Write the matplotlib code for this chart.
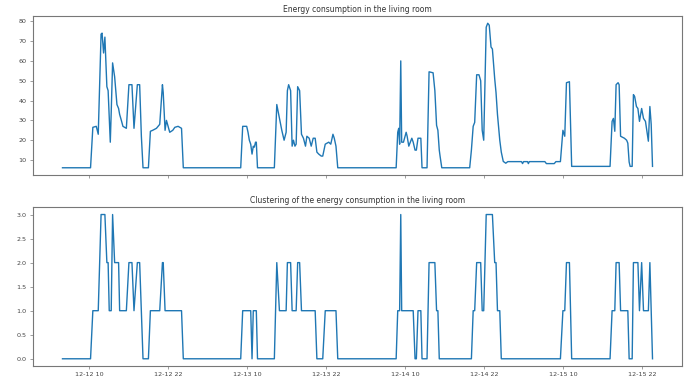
import matplotlib
matplotlib.use("Agg")
import matplotlib.pyplot as plt
import matplotlib.dates as mdates
import numpy as np
import pandas as pd

# hours since 12-12 00:00, with the reading and the cluster given to it
hours = [6.0, 10.26, 10.61, 11.13, 11.43, 11.86, 12.01, 12.24, 12.44, 12.74,
         12.93, 13.10, 13.26, 13.40, 13.61, 13.92, 14.27, 14.52, 14.68, 14.94,
         15.18, 15.70, 16.09, 16.55, 16.86, 17.37, 17.72, 17.98, 18.23, 19.05,
         19.35, 19.70, 20.27, 20.77, 21.18, 21.30, 21.58, 21.79, 22.29, 22.75,
         23.06, 23.56, 24.08, 24.35,
         33.07, 33.37, 33.98, 34.18, 34.38, 34.59, 34.79, 34.98, 35.14, 35.32,
         35.44, 35.62,
         38.18, 38.55, 38.95, 39.31, 39.66, 39.97, 40.16, 40.35, 40.65, 40.88,
         41.08, 41.31, 41.49, 41.72, 42.02, 42.30, 42.60, 42.91, 43.12, 43.47,
         43.78, 44.08, 44.38, 44.64, 44.92, 45.30, 45.53, 45.91, 46.44, 46.75,
         47.08, 47.28, 47.54, 47.81,
         56.68, 56.92, 57.07, 57.21, 57.38, 57.52, 57.79, 58.20, 58.35, 58.60,
         59.06, 59.27, 59.55, 59.75, 60.00, 60.43, 60.61, 61.37, 61.68, 62.29,
         62.56, 62.82, 63.02, 63.23, 63.35, 63.61,
         67.85, 68.11, 68.38, 68.61, 68.91, 69.26, 69.52, 69.75, 69.98, 70.36,
         70.59, 70.82, 71.09, 71.30, 71.65, 71.85, 72.07, 72.42, 72.65, 72.95,
         73.33, 73.64, 75.72, 75.88, 76.03, 76.64, 76.76, 76.91, 79.27, 79.50,
         80.69, 80.95, 81.63, 82.01, 82.29, 82.55, 83.00, 83.34,
         89.17, 89.48, 89.68, 89.89, 90.09, 90.39, 90.55, 90.77, 91.35, 91.69,
         91.87, 92.07, 92.22, 92.53, 92.72, 92.91, 93.18, 93.40, 93.64, 93.97,
         94.25, 94.55, 94.99, 95.22, 95.42, 95.62]

energy = [6.1, 6.1, 26.5, 27, 23, 73.5, 74, 64, 72, 47,
          45, 32, 19, 34, 59, 52, 38, 36, 33, 30,
          27, 26, 48, 48, 26, 48, 48, 22, 6.1, 6.1,
          24.5, 25, 26, 28, 48, 44, 25, 30, 24, 25,
          26.5, 27, 26, 6.1,
          6.1, 27, 27, 24, 20, 18, 13, 17, 16.5, 19,
          19, 6.1,
          6.1, 38, 31, 25, 20, 24, 45, 48, 45, 17,
          20, 17, 18, 47, 45, 23, 21, 17, 22, 21,
          17, 21, 21, 14, 13, 12, 12, 18, 19, 18,
          23, 21, 17, 6.1,
          6.1, 24, 26, 18, 60, 19, 19, 24, 22, 17,
          21, 19, 15, 15, 21, 21, 6.1, 6.1, 54.5, 54,
          45, 27.5, 25, 15, 12, 6.1,
          6.1, 15, 27, 29, 53, 53, 50, 25, 20, 77,
          79, 78, 67, 66, 51, 44, 33, 20, 14, 9.3,
          8.4, 9.2, 9.2, 8.2, 9.2, 9.2, 8.2, 9.2, 9.2, 8.2,
          8.2, 9.2, 9.2, 25, 22, 49, 49.5, 6.8,
          6.8, 29.5, 31, 24.5, 48, 49, 48, 22, 21, 20,
          18.5, 9, 6.8, 6.8, 43, 42, 37, 36, 29.5, 36,
          31, 29.5, 19.5, 37, 28, 6.8]

cluster = [0, 0, 1, 1, 1, 3, 3, 3, 3, 2,
           2, 1, 1, 1, 3, 2, 2, 2, 1, 1,
           1, 1, 2, 2, 1, 2, 2, 1, 0, 0,
           1, 1, 1, 1, 2, 2, 1, 1, 1, 1,
           1, 1, 1, 0,
           0, 1, 1, 1, 1, 1, 0, 1, 1, 1,
           1, 0,
           0, 2, 1, 1, 1, 1, 2, 2, 2, 1,
           1, 1, 1, 2, 2, 1, 1, 1, 1, 1,
           1, 1, 1, 0, 0, 0, 0, 1, 1, 1,
           1, 1, 1, 0,
           0, 1, 1, 1, 3, 1, 1, 1, 1, 1,
           1, 1, 0, 0, 1, 1, 0, 0, 2, 2,
           2, 1, 1, 0, 0, 0,
           0, 0, 1, 1, 2, 2, 2, 1, 1, 3,
           3, 3, 3, 3, 2, 2, 1, 1, 0, 0,
           0, 0, 0, 0, 0, 0, 0, 0, 0, 0,
           0, 0, 0, 1, 1, 2, 2, 0,
           0, 1, 1, 1, 2, 2, 2, 1, 1, 1,
           1, 0, 0, 0, 2, 2, 2, 2, 1, 2,
           1, 1, 1, 2, 1, 0]

times = pd.Timestamp("2019-12-12") + pd.to_timedelta(hours, unit="h")
df = pd.DataFrame({"energy": energy, "cluster": cluster}, index=times)

plt.rcParams["font.size"] = 4.6

fig = plt.figure(figsize=(6.99, 3.82), dpi=100)
ax1 = fig.add_axes([0.0472, 0.5419, 0.9285, 0.4162])
ax2 = fig.add_axes([0.0472, 0.0419, 0.9285, 0.4154], sharex=ax1)

ax1.plot(df.index, df["energy"], color="#1f77b4", lw=1.0)
ax1.set_title("Energy consumption in the living room", fontsize=5.5, pad=3, color="#333333")

ax2.plot(df.index, df["cluster"], color="#1f77b4", lw=1.0)
ax2.set_title("Clustering of the energy consumption in the living room", fontsize=5.5, pad=3, color="#333333")

ax2.xaxis.set_major_locator(mdates.HourLocator(byhour=[10, 22]))
ax2.xaxis.set_major_formatter(mdates.DateFormatter("%m-%d %H"))
ax1.tick_params(labelbottom=False)

for ax in (ax1, ax2):
    for s in ax.spines.values():
        s.set_color("#777777")
        s.set_linewidth(0.8)
    ax.tick_params(length=2.5, width=0.5, colors="#777777", labelcolor="#444444", pad=2)

ax1.set_yticks([10, 20, 30, 40, 50, 60, 70, 80])
ax2.set_yticks([0.0, 0.5, 1.0, 1.5, 2.0, 2.5, 3.0])

fig.savefig("out.png", dpi=100)
